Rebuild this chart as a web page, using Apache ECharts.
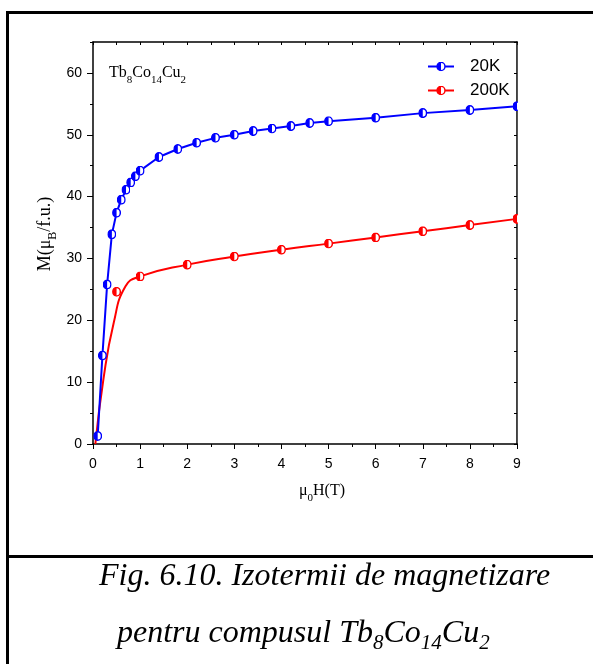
<!DOCTYPE html>
<html>
<head>
<meta charset="utf-8">
<title>Tb8Co14Cu2 magnetization isotherms</title>
<script src="https://cdn.jsdelivr.net/npm/echarts@6/dist/echarts.min.js"></script>
<style>
  html, body { margin: 0; padding: 0; background: #fff; }
  #chart { width: 593px; height: 664px; }
</style>
</head>
<body>
<div id="chart"></div>
<script>
// Applied field μ0H (T) and magnetization M (μB/f.u.) measured at 20 K
const field20K = [0.1, 0.2, 0.3, 0.4, 0.5, 0.6, 0.7, 0.8, 0.9, 1.0, 1.4, 1.8, 2.2, 2.6, 3.0, 3.4, 3.8, 4.2, 4.6, 5, 6, 7, 8, 9];
const moment20K = [1.3, 14.3, 25.8, 33.9, 37.4, 39.5, 41.1, 42.3, 43.3, 44.2, 46.4, 47.7, 48.7, 49.5, 50.0, 50.6, 51.0, 51.4, 51.9, 52.2, 52.75, 53.5, 54.0, 54.6];

// Measured points at 200 K
const field200K = [0.5, 1, 2, 3, 4, 5, 6, 7, 8, 9];
const moment200K = [24.6, 27.1, 29.0, 30.3, 31.4, 32.4, 33.4, 34.4, 35.4, 36.4];

// Low-field part of the fitted 200 K curve (joins the measured points from 1 T on)
const fitField200K = [0.05, 0.22, 0.44, 0.69];
const fitMoment200K = [0, 10.4, 19.6, 25.5];

// Axis ticks
const xTickValues = [0, 1, 2, 3, 4, 5, 6, 7, 8, 9];
const yTickValues = [0, 10, 20, 30, 40, 50, 60];

const BLUE = '#0000ff';
const RED = '#ff0000';
const SERIF = '"Liberation Serif", "Times New Roman", serif';
const SANS = '"Liberation Sans", Arial, sans-serif';

// Half-filled circle marker (left half solid, right half white)
function halfDisc(color) {
  const svg = '<svg xmlns="http://www.w3.org/2000/svg" width="20" height="22" viewBox="0 0 20 22">' +
    '<ellipse cx="10" cy="11" rx="8.4" ry="9.4" fill="#ffffff" stroke="' + color + '" stroke-width="3.2"/>' +
    '<path d="M10 1.6 A8.4 9.4 0 0 0 10 20.4 Z" fill="' + color + '"/>' +
    '</svg>';
  return 'image://data:image/svg+xml;charset=utf-8,' + encodeURIComponent(svg);
}

const pairs = (xs, ys) => xs.map((x, i) => [x, ys[i]]);
const points20K = pairs(field20K, moment20K);
const points200K = pairs(field200K, moment200K);
const curve200K = pairs(fitField200K, fitMoment200K).concat(points200K.filter(p => p[0] >= 1));

const axisLineStyle = { color: '#000', width: 1.5 };
const tickLineStyle = { color: '#000', width: 1 };

const chart = echarts.init(document.getElementById('chart'), null, { renderer: 'canvas' });

chart.setOption({
  animation: false,
  backgroundColor: '#ffffff',
  grid: { left: 93, right: 76, top: 42, bottom: 220, outerBoundsMode: 'none', containLabel: false },
  legend: {
    orient: 'vertical',
    left: 427,
    top: 58,
    padding: 0,
    itemWidth: 26,
    itemHeight: 12,
    itemGap: 7,
    selectedMode: false,
    data: [{ name: '20K' }, { name: '200K', lineStyle: { width: 2 } }],
    formatter: name => '{t|' + name + '}',
    textStyle: {
      color: '#000',
      rich: { t: { fontFamily: SANS, fontSize: 17, lineHeight: 16, color: '#000', padding: [0, 0, 0, 11] } }
    }
  },
  xAxis: [
    {
      type: 'value', position: 'bottom', min: 0, max: 9, interval: 1,
      axisLine: { show: true, onZero: false, lineStyle: axisLineStyle },
      axisTick: { show: true, inside: false, length: 5, lineStyle: tickLineStyle },
      minorTick: { show: true, splitNumber: 2, length: 3, lineStyle: tickLineStyle },
      axisLabel: {
        show: true, margin: 13, color: '#000', fontFamily: SANS, fontSize: 14,
        formatter: v => (xTickValues.indexOf(v) >= 0 ? String(v) : '')
      },
      splitLine: { show: false }, minorSplitLine: { show: false }
    },
    {
      type: 'value', position: 'top', min: 0, max: 9, interval: 0.5,
      axisLine: { show: true, onZero: false, lineStyle: axisLineStyle },
      axisTick: { show: true, inside: true, length: 3, lineStyle: tickLineStyle },
      axisLabel: { show: false },
      splitLine: { show: false }
    }
  ],
  yAxis: [
    {
      type: 'value', position: 'left', min: 0, max: 65, interval: 10,
      axisLine: { show: true, onZero: false, lineStyle: axisLineStyle },
      axisTick: { show: true, inside: false, length: 6, lineStyle: tickLineStyle },
      axisLabel: {
        show: true, margin: 11, color: '#000', fontFamily: SANS, fontSize: 14, showMaxLabel: false,
        formatter: v => (yTickValues.indexOf(v) >= 0 ? String(v) : '')
      },
      splitLine: { show: false }
    },
    {
      type: 'value', position: 'left', min: 0, max: 65, interval: 5,
      axisLine: { show: false },
      axisTick: { show: true, inside: false, length: 3, lineStyle: tickLineStyle },
      axisLabel: { show: false },
      splitLine: { show: false }
    },
    {
      type: 'value', position: 'right', min: 0, max: 65, interval: 5,
      axisLine: { show: true, onZero: false, lineStyle: axisLineStyle },
      axisTick: { show: true, inside: true, length: 3, lineStyle: tickLineStyle },
      axisLabel: { show: false },
      splitLine: { show: false }
    }
  ],
  series: [
    {
      name: '20K', type: 'line', xAxisIndex: 0, yAxisIndex: 0,
      data: points20K,
      symbol: halfDisc(BLUE), symbolSize: [9, 10], showAllSymbol: true,
      itemStyle: { color: BLUE },
      lineStyle: { color: BLUE, width: 2 },
      z: 4
    },
    {
      name: '200K curve', type: 'line', xAxisIndex: 0, yAxisIndex: 0,
      data: curve200K,
      smooth: 0.5,
      symbol: 'none',
      itemStyle: { color: RED },
      lineStyle: { color: RED, width: 2 },
      z: 2
    },
    {
      name: '200K', type: 'line', xAxisIndex: 0, yAxisIndex: 0,
      data: points200K,
      symbol: halfDisc(RED), symbolSize: [9, 10], showAllSymbol: true,
      itemStyle: { color: RED },
      lineStyle: { color: RED, width: 0 },
      z: 3
    }
  ]
});

// Plot-area corners, used to trim markers that spill past the right frame
const topRight = chart.convertToPixel({ xAxisIndex: 0, yAxisIndex: 0 }, [9, 65]);
const bottomRight = chart.convertToPixel({ xAxisIndex: 0, yAxisIndex: 0 }, [9, 0]);

chart.setOption({
  graphic: [
    // trim markers sitting on the right frame
    {
      type: 'rect', z: 10, silent: true,
      shape: { x: topRight[0] + 0.9, y: topRight[1] + 1, width: 80, height: bottomRight[1] - topRight[1] - 2 },
      style: { fill: '#ffffff' }
    },
    // page frame and caption separator
    { type: 'line', z: 20, silent: true, shape: { x1: 6, y1: 12.5, x2: 593, y2: 12.5 }, style: { stroke: '#000', lineWidth: 3 } },
    { type: 'line', z: 20, silent: true, shape: { x1: 7.5, y1: 11, x2: 7.5, y2: 664 }, style: { stroke: '#000', lineWidth: 3 } },
    { type: 'line', z: 20, silent: true, shape: { x1: 6, y1: 556.5, x2: 593, y2: 556.5 }, style: { stroke: '#000', lineWidth: 3 } },
    // compound label
    {
      type: 'text', z: 20, silent: true, x: 109, y: 65,
      style: {
        text: '{n|Tb}{s|8}{n|Co}{s|14}{n|Cu}{s|2}',
        verticalAlign: 'top', align: 'left', fill: '#000',
        rich: {
          n: { fontFamily: SERIF, fontSize: 16, lineHeight: 16, verticalAlign: 'top', fill: '#000' },
          s: { fontFamily: SERIF, fontSize: 11, lineHeight: 10, verticalAlign: 'top', padding: [10, 0, 0, 0], fill: '#000' }
        }
      }
    },
    // y axis title
    {
      type: 'text', z: 20, silent: true, x: 45.5, y: 234, rotation: Math.PI / 2,
      style: {
        text: '{n|M(μ}{s|B}{n|/f.u.)}',
        align: 'center', verticalAlign: 'middle', fill: '#000',
        rich: {
          n: { fontFamily: SERIF, fontSize: 18, lineHeight: 18, verticalAlign: 'top', fill: '#000' },
          s: { fontFamily: SERIF, fontSize: 12, lineHeight: 12, verticalAlign: 'top', padding: [10, 0, 0, 0], fill: '#000' }
        }
      }
    },
    // x axis title
    {
      type: 'text', z: 20, silent: true, x: 322, y: 491,
      style: {
        text: '{n|μ}{s|0}{n|H(T)}',
        align: 'center', verticalAlign: 'middle', fill: '#000',
        rich: {
          n: { fontFamily: SERIF, fontSize: 16, lineHeight: 16, verticalAlign: 'top', fill: '#000' },
          s: { fontFamily: SERIF, fontSize: 11, lineHeight: 10, verticalAlign: 'top', padding: [10, 0, 0, 0], fill: '#000' }
        }
      }
    },
    // figure caption
    {
      type: 'text', z: 20, silent: true, x: 99, y: 561,
      style: {
        text: 'Fig. 6.10. Izotermii de magnetizare',
        font: 'italic 32px ' + SERIF, lineHeight: 32,
        align: 'left', verticalAlign: 'top', fill: '#000'
      }
    },
    {
      type: 'text', z: 20, silent: true, x: 117, y: 618,
      style: {
        text: '{n|pentru compusul Tb}{s|8}{n|Co}{s|14}{n|Cu}{s|2}',
        align: 'left', verticalAlign: 'top', fill: '#000',
        rich: {
          n: { fontFamily: SERIF, fontStyle: 'italic', fontSize: 32, lineHeight: 32, verticalAlign: 'top', fill: '#000' },
          s: { fontFamily: SERIF, fontStyle: 'italic', fontSize: 21, lineHeight: 21, verticalAlign: 'top', padding: [15, 0, 0, 0], fill: '#000' }
        }
      }
    }
  ]
});
</script>
</body>
</html>
